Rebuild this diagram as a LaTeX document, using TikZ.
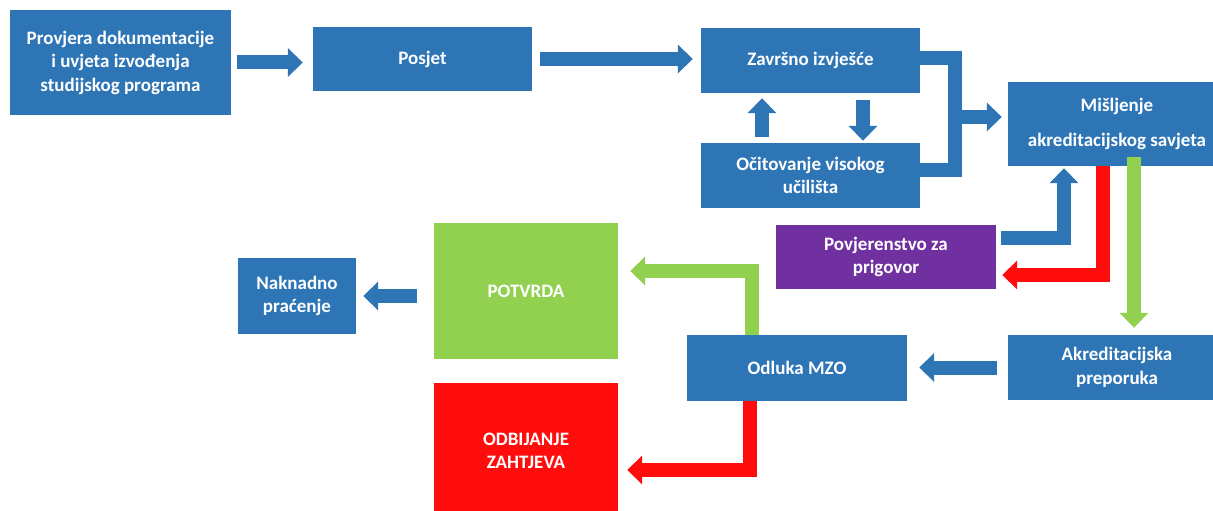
\documentclass[tikz,border=0pt]{standalone}
\usepackage{fontspec}
\setmainfont{Carlito}
\usetikzlibrary{arrows.meta}
\definecolor{boxblue}{HTML}{2E75B6}
\definecolor{boxgreen}{HTML}{92D050}
\definecolor{boxred}{HTML}{FF0D0D}
\definecolor{boxpurple}{HTML}{7030A0}

\begin{document}
\begin{tikzpicture}[x = 1pt, y = -1pt,
box/.style = {fill = #1, text = white, font = \bfseries\fontsize{19}{23.5}\selectfont, align = center, inner sep = 0pt, minimum width = 219pt, minimum height = 65pt},
box/.default = boxblue,
pipe/.style = {draw = #1, line width = 14pt, line join = miter, -{Triangle[width = 28pt, length = 15pt]}}]
\useasboundingbox (0,0) rectangle (1213,511);

\node[box, minimum width = 221pt, minimum height = 105pt] (PROV) at (120.5,62.5) {Provjera dokumentacije\\ i uvjeta izvođenja\\ studijskog programa};
\node[box, minimum height = 64pt] (POSJ) at (422.5,59) {Posjet};
\node[box] (ZAVR) at (810.5,60.5) {Završno izvješće};
\node[box] (OCIT) at (810.5,175.5) {Očitovanje visokog\\ učilišta};
\node[box, minimum width = 218pt, minimum height = 84pt] (MISL) at (1117,124) {Mišljenje\\[11.5pt] akreditacijskog savjeta};
\node[box = boxpurple, minimum width = 220pt, minimum height = 64pt] (POVJ) at (886,257) {Povjerenstvo za\\ prigovor};
\node[box = boxgreen, minimum width = 184pt, minimum height = 136pt] (POTV) at (526,291) {POTVRDA};
\node[box = boxred, minimum width = 184pt, minimum height = 136pt] (ODBI) at (526,451) {ODBIJANJE\\ ZAHTJEVA};
\node[box, minimum width = 220pt, minimum height = 66pt] (ODLU) at (797,368) {Odluka MZO};
\node[box, minimum width = 218pt] (AKRE) at (1117,367.5) {Akreditacijska\\ preporuka};
\node[box, minimum width = 118pt, minimum height = 76pt] (NAKN) at (297,296) {Naknadno\\ praćenje};
\coordinate (KNEE) at (955,117);

\draw[pipe = boxblue, shorten <= 6pt, shorten >= 10pt] (PROV.east) -- (PROV.east -| POSJ.west);
\draw[pipe = boxblue, shorten <= 8pt, shorten >= 8pt] (POSJ.east) -- (POSJ.east -| ZAVR.west);
\draw[pipe = boxblue, shorten <= 6pt, shorten >= 5pt] ([xshift = -48.5pt]OCIT.north) -- ([xshift = -48.5pt]ZAVR.south);
\draw[pipe = boxblue, shorten <= 7pt, shorten >= 2pt] ([xshift = 52.5pt]ZAVR.south) -- ([xshift = 52.5pt]OCIT.north);
\draw[pipe = boxblue, -] ([yshift = 2.5pt]ZAVR.east) -| (KNEE) |- ([yshift = 5.5pt]OCIT.east);
\draw[pipe = boxblue, shorten >= 6pt] (KNEE) -- (KNEE -| MISL.west);
\draw[pipe = boxblue, shorten <= 5pt, shorten >= 2pt] ([yshift = 19.5pt]POVJ.east) -| ([xshift = -53pt]MISL.south);
\draw[pipe = boxred, shorten >= 6pt] ([xshift = -14pt]MISL.south) |- ([yshift = -18pt]POVJ.east);
\draw[pipe = boxgreen, shorten >= 7pt] ([xshift = 17pt, yshift = 9pt]MISL.south) -- ([xshift = 17pt]AKRE.north);
\draw[pipe = boxblue, shorten <= 11pt, shorten >= 12pt] (AKRE.west) -- (AKRE.west -| ODLU.east);
\draw[pipe = boxgreen, shorten >= 12pt] ([xshift = -45pt]ODLU.north) |- ([yshift = 20pt]POTV.east);
\draw[pipe = boxred, shorten >= 9pt] ([xshift = -47pt]ODLU.south) |- ([yshift = -19pt]ODBI.east);
\draw[pipe = boxblue, shorten <= 17pt, shorten >= 7pt] (NAKN.east -| POTV.west) -- (NAKN.east);
\end{tikzpicture}
\end{document}
